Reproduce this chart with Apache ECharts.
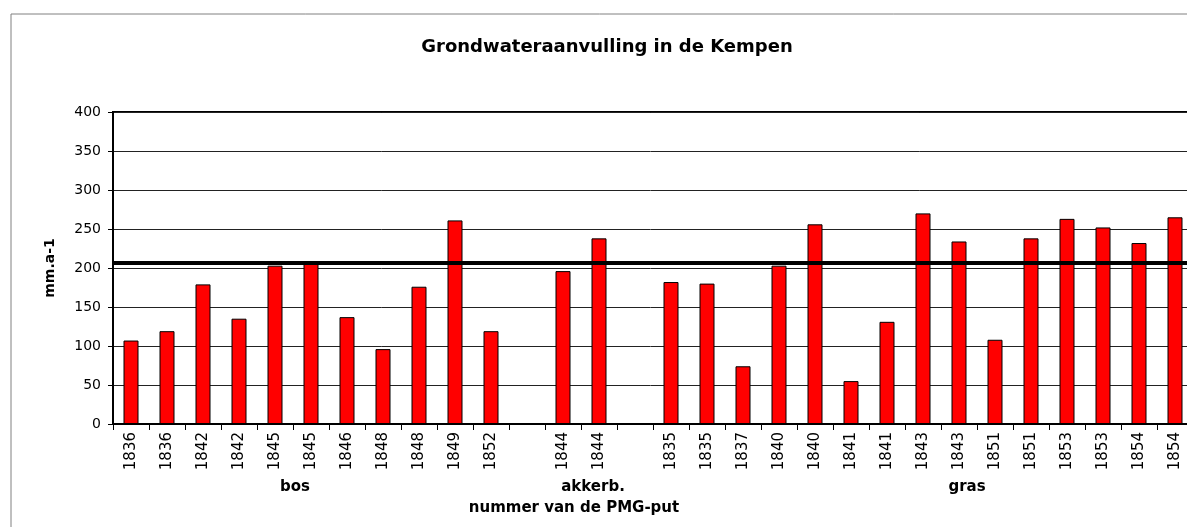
<!DOCTYPE html>
<html>
<head>
<meta charset="utf-8">
<script src="https://cdn.jsdelivr.net/npm/echarts@6/dist/echarts.min.js"></script>
<style>
  html, body { margin: 0; padding: 0; background: #fff; }
  #chart { width: 1187px; height: 527px; }
</style>
</head>
<body>
<div id="chart"></div>
<script>
// put-nummers per landgebruik, lege plekken scheiden de groepen
var putNummers = ['1836', '1836', '1842', '1842', '1845', '1845', '1846', '1848', '1848', '1849', '1852',
  '',
  '1844', '1844',
  '',
  '1835', '1835', '1837', '1840', '1840', '1841', '1841', '1843', '1843', '1851', '1851', '1853', '1853', '1854', '1854'];
// grondwateraanvulling mm/jaar
var aanvulling = [107, 119, 179, 135, 203, 208, 137, 96, 176, 261, 119,
  null,
  196, 238,
  null,
  182, 180, 74, 203, 256, 55, 131, 270, 234, 108, 238, 263, 252, 232, 265];
var gemiddelde = 207;
var yTicks = [0, 50, 100, 150, 200, 250, 300, 350, 400];

var chart = echarts.init(document.getElementById('chart'), null, { renderer: 'canvas' });

var option = {
  backgroundColor: '#fff',
  animation: false,
  title: {
    text: 'Grondwateraanvulling in de Kempen',
    left: 602,
    top: 33,
    textAlign: 'center',
    textStyle: {
      fontFamily: 'DejaVu Sans',
      fontWeight: 'bold',
      fontSize: 18,
      color: '#000'
    }
  },
  grid: {
    left: 113,
    top: 112,
    width: 1080,
    height: 312,
    outerBoundsMode: 'none',
    containLabel: false,
    show: true,
    backgroundColor: '#fff',
    borderColor: '#000',
    borderWidth: 2
  },
  xAxis: {
    type: 'category',
    data: putNummers,
    axisLine: { lineStyle: { color: '#000', width: 2 } },
    axisTick: { show: true, length: 6, lineStyle: { color: '#000' } },
    axisLabel: {
      interval: 0,
      rotate: 90,
      margin: 8,
      color: '#000',
      fontFamily: 'DejaVu Sans',
      fontSize: 15
    }
  },
  yAxis: {
    type: 'value',
    min: yTicks[0],
    max: yTicks[yTicks.length - 1],
    interval: 50,
    name: 'mm.a-1',
    nameLocation: 'middle',
    nameRotate: 90,
    nameGap: 56,
    nameTextStyle: {
      fontFamily: 'DejaVu Sans',
      fontWeight: 'bold',
      fontSize: 14,
      color: '#000'
    },
    axisLine: { show: true, lineStyle: { color: '#000', width: 2 } },
    axisTick: { show: true, length: 5, lineStyle: { color: '#000' } },
    axisLabel: {
      margin: 12,
      color: '#000',
      fontFamily: 'DejaVu Sans',
      fontSize: 14
    },
    splitLine: { show: true, lineStyle: { color: '#222', width: 1 } }
  },
  series: [{
    name: 'aanvulling',
    type: 'bar',
    data: aanvulling,
    barWidth: 15,
    itemStyle: {
      color: '#ff0000',
      borderColor: '#000',
      borderWidth: 1
    },
    markLine: {
      silent: true,
      symbol: ['none', 'none'],
      label: { show: false },
      lineStyle: { color: '#000', width: 4, type: 'solid' },
      data: [{ yAxis: gemiddelde }]
    }
  }],
  graphic: [
    {
      type: 'rect',
      shape: { x: 11, y: 14, width: 1400, height: 700 },
      style: { fill: 'none', stroke: '#808080', lineWidth: 1 },
      z: -1
    },
    {
      type: 'text', x: 295, y: 487,
      style: { text: 'bos', font: 'bold 15px "DejaVu Sans"', fill: '#000', align: 'center', verticalAlign: 'middle' }
    },
    {
      type: 'text', x: 593, y: 487,
      style: { text: 'akkerb.', font: 'bold 15px "DejaVu Sans"', fill: '#000', align: 'center', verticalAlign: 'middle' }
    },
    {
      type: 'text', x: 967, y: 487,
      style: { text: 'gras', font: 'bold 15px "DejaVu Sans"', fill: '#000', align: 'center', verticalAlign: 'middle' }
    },
    {
      type: 'text', x: 574, y: 508,
      style: { text: 'nummer van de PMG-put', font: 'bold 15px "DejaVu Sans"', fill: '#000', align: 'center', verticalAlign: 'middle' }
    }
  ]
};

chart.setOption(option);
</script>
</body>
</html>
